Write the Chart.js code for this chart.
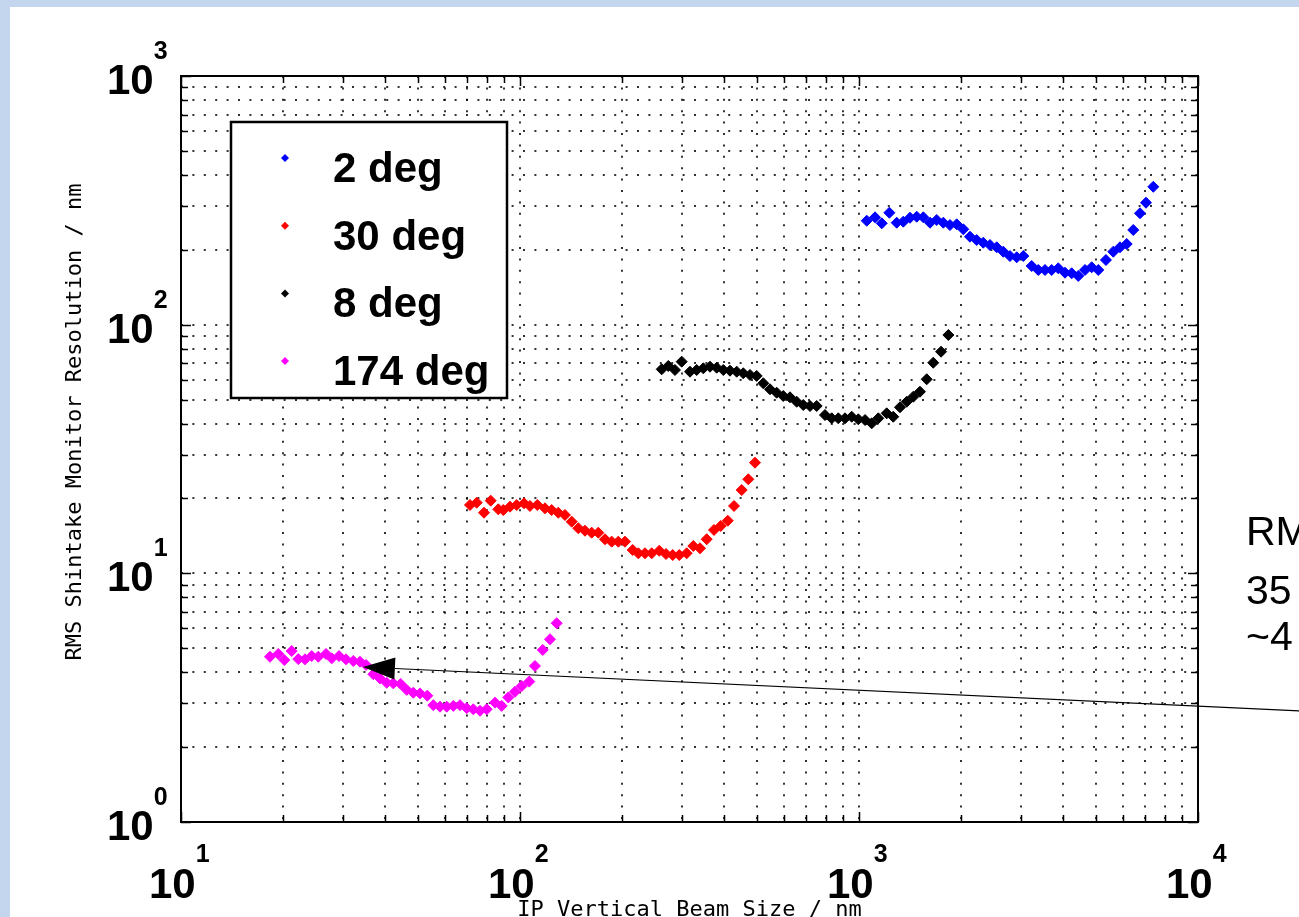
<!DOCTYPE html>
<html>
<head>
<meta charset="utf-8">
<script src="https://cdn.jsdelivr.net/npm/chart.js@4/dist/chart.umd.min.js"></script>
<style>
  html, body { margin: 0; padding: 0; background: #ffffff; }
  #wrap { width: 1299px; height: 917px; position: relative; }
</style>
</head>
<body>
<div id="wrap"><canvas id="c" width="1299" height="917"></canvas></div>
<script>
// Series labels and colours (legend order)
const seriesNames  = ['2 deg', '30 deg', '8 deg', '174 deg'];
const seriesColors = ['#0000ff', '#ff0000', '#000000', '#ff00ff'];

// IP vertical beam size (nm) and RMS monitor resolution (nm) per crossing angle
const size2deg = [1054,1115,1167,1229,1292,1351,1414,1480,1548,1620,1695,1773,1855,1942,2031,2125,2224,2326,2434,2548,2665,2788,2919,3053,3231,3380,3537,3701,3871,4052,4240,4434,4642,4857,5080,5352,5625,5887,6161,6443,6743,7024,7382];
const res2deg  = [261.8,270.2,255.6,282.0,257.1,259.5,269.2,271.7,270.2,257.1,263.6,257.1,251.6,253.2,241.8,225.8,219.0,213.6,209.1,204.7,196.5,188.8,186.6,188.8,172.2,165.9,165.9,165.9,168.5,161.8,160.9,157.0,165.9,170.1,165.9,182.0,196.5,204.7,211.1,240.3,280.5,309.4,358.6];

const size30deg = [71.20,74.52,78.30,81.96,86.30,89.27,93.44,97.79,102.8,107.0,112.5,118.5,124.0,129.7,135.7,142.1,148.6,155.5,162.7,170.2,178.1,186.4,195.0,204.0,215.0,223.4,233.7,244.6,257.6,269.6,282.1,295.0,310.2,324.5,339.6,355.4,373.5,390.8,410.0,427.9,450.8,471.5,493.4];
const res30deg  = [18.83,19.24,17.53,19.60,18.09,17.97,18.54,18.83,19.12,18.66,18.83,18.26,17.97,17.53,17.16,16.13,15.18,14.84,14.57,14.57,13.71,13.41,13.41,13.41,12.41,12.04,12.04,12.04,12.33,11.96,11.85,11.85,12.04,12.88,12.61,13.71,14.94,15.50,16.28,18.66,21.63,23.89,27.86];

const size8deg = [261.8,273.8,286.5,299.9,317.3,332.0,347.3,363.5,380.4,397.9,416.4,435.8,455.7,477.0,499.1,522.0,546.3,571.7,597.9,625.8,654.8,684.9,716.9,750.2,793.7,830.7,868.8,909.3,951.7,995.2,1042,1090,1140,1207,1262,1321,1383,1446,1513,1584,1656,1746,1835];
const res8deg  = [66.15,68.21,65.72,70.99,64.70,65.72,66.76,67.76,67.14,65.72,65.30,64.70,63.75,62.77,62.19,58.11,54.97,53.26,51.66,51.04,48.99,47.53,47.09,47.09,43.31,42.02,42.02,42.02,42.64,41.63,41.36,40.11,42.02,44.00,42.64,46.53,48.99,51.32,53.75,60.31,70.31,77.86,90.87];

const size174deg = [18.30,19.36,20.17,21.21,22.18,23.22,24.30,25.41,26.78,27.83,29.25,30.67,32.23,33.73,35.14,36.93,38.64,40.44,42.29,44.47,46.32,48.45,50.70,53.28,55.49,58.08,60.79,63.57,66.53,69.63,72.81,76.21,79.76,84.39,88.31,92.37,96.67,101.2,106.5,110.7,116.7,122.6,128.3];
const res174deg  = [4.62,4.74,4.48,4.87,4.52,4.51,4.65,4.62,4.74,4.55,4.65,4.51,4.44,4.41,4.28,3.93,3.78,3.63,3.61,3.59,3.40,3.31,3.29,3.22,2.95,2.91,2.91,2.93,2.95,2.87,2.84,2.80,2.84,3.02,2.93,3.17,3.34,3.52,3.67,4.24,4.92,5.43,6.30];

// Decade exponents shown as tick labels
const xTickExponents = [1, 2, 3, 4];
const yTickExponents = [0, 1, 2, 3];

// Axis titles and side annotation
const xTitle = 'IP Vertical Beam Size / nm';
const yTitle = 'RMS Shintake Monitor Resolution / nm';
const sideNote = ['RMS', '35', '~4'];
const arrowTip  = { x: 34.4,  y: 4.2 };
const arrowTail = { x: 19900, y: 2.8 };

// Gridline values: 1..9 x each decade
function decadeGrid(exps) {
  const out = [];
  for (let i = 0; i < exps.length - 1; i++) {
    for (let m = 1; m <= 9; m++) out.push(m * Math.pow(10, exps[i]));
  }
  out.push(Math.pow(10, exps[exps.length - 1]));
  return out;
}
const xGrid = decadeGrid(xTickExponents);
const yGrid = decadeGrid(yTickExponents);

const seriesData = [
  [size2deg, res2deg],
  [size30deg, res30deg],
  [size8deg, res8deg],
  [size174deg, res174deg]
];

const datasets = seriesData.map(([xs, ys], i) => ({
  label: seriesNames[i],
  data: xs.map((x, k) => ({ x: x, y: ys[k] })),
  showLine: false,
  pointStyle: 'rectRot',
  pointRadius: 5.5,
  pointBackgroundColor: seriesColors[i],
  pointBorderColor: seriesColors[i],
  pointBorderWidth: 1
}));

const SANS = '"Liberation Sans", Arial, Helvetica, sans-serif';
const MONO = '"DejaVu Sans Mono", monospace';

function drawDiamond(ctx, x, y, r, color) {
  ctx.beginPath();
  ctx.moveTo(x, y - r); ctx.lineTo(x + r, y); ctx.lineTo(x, y + r); ctx.lineTo(x - r, y);
  ctx.closePath();
  ctx.fillStyle = color; ctx.fill();
}

const decor = {
  id: 'decor',
  beforeDraw(chart) {
    const ctx = chart.ctx;
    ctx.save();
    ctx.fillStyle = '#c3d6ee';
    ctx.fillRect(0, 0, chart.width, chart.height);
    ctx.fillStyle = '#ffffff';
    ctx.fillRect(10, 7, chart.width - 10, chart.height - 7);
    ctx.restore();
  },
  afterDraw(chart) {
    const ctx = chart.ctx;
    const xs = chart.scales.x, ys = chart.scales.y;
    const a = chart.chartArea;
    ctx.save();

    // frame
    ctx.strokeStyle = '#000'; ctx.lineWidth = 2;
    ctx.strokeRect(a.left, a.top, a.right - a.left, a.bottom - a.top);

    // inward tick marks on all four sides
    ctx.lineWidth = 1.5;
    ctx.beginPath();
    xGrid.forEach(v => {
      const p = Math.round(xs.getPixelForValue(v)) + 0.5;
      const len = Math.abs(Math.log10(v) % 1) < 1e-9 ? 10 : 7;
      ctx.moveTo(p, a.bottom); ctx.lineTo(p, a.bottom - len);
      ctx.moveTo(p, a.top); ctx.lineTo(p, a.top + len);
    });
    yGrid.forEach(v => {
      const p = Math.round(ys.getPixelForValue(v)) + 0.5;
      const len = Math.abs(Math.log10(v) % 1) < 1e-9 ? 10 : 7;
      ctx.moveTo(a.left, p); ctx.lineTo(a.left + len, p);
      ctx.moveTo(a.right, p); ctx.lineTo(a.right - len, p);
    });
    ctx.stroke();

    // tick labels: 10 with superscript exponent
    ctx.fillStyle = '#000';
    ctx.textAlign = 'left'; ctx.textBaseline = 'alphabetic';
    xTickExponents.forEach(e => {
      const p = xs.getPixelForValue(Math.pow(10, e));
      ctx.font = 'bold 42px ' + SANS;
      const x0 = p - 32;
      ctx.fillText('10', x0, a.bottom + 76);
      const w = ctx.measureText('10').width;
      ctx.font = 'bold 25px ' + SANS;
      ctx.fillText(String(e), x0 + w, a.bottom + 40);
    });
    yTickExponents.forEach(e => {
      const p = ys.getPixelForValue(Math.pow(10, e));
      ctx.font = 'bold 42px ' + SANS;
      const x0 = a.left - 74;
      ctx.fillText('10', x0, p + 18);
      const w = ctx.measureText('10').width;
      ctx.font = 'bold 25px ' + SANS;
      ctx.fillText(String(e), x0 + w, p - 17);
    });

    // axis titles
    ctx.font = '22px ' + MONO;
    ctx.textAlign = 'center';
    ctx.fillText(xTitle, (a.left + a.right) / 2, 916);
    ctx.save();
    ctx.translate(81, 422);
    ctx.rotate(-Math.PI / 2);
    ctx.fillText(yTitle, 0, 0);
    ctx.restore();

    // legend box
    const lx = 231, ly = 122, lw = 276, lh = 276;
    ctx.fillStyle = '#fff';
    ctx.fillRect(lx, ly, lw, lh);
    ctx.strokeStyle = '#000'; ctx.lineWidth = 2.5;
    ctx.strokeRect(lx, ly, lw, lh);
    ctx.textAlign = 'left';
    ctx.font = 'bold 42px ' + SANS;
    seriesNames.forEach((name, i) => {
      const rowY = 158 + i * 67.7;
      drawDiamond(ctx, 285, rowY, 4, seriesColors[i]);
      ctx.fillStyle = '#000';
      ctx.fillText(name, 333, rowY + 24);
    });

    // arrow pointing at the 174 deg curve
    const tx = xs.getPixelForValue(arrowTip.x), ty = ys.getPixelForValue(arrowTip.y);
    const sx = xs.getPixelForValue(arrowTail.x), sy = ys.getPixelForValue(arrowTail.y);
    const ang = Math.atan2(sy - ty, sx - tx);
    const hl = 32, hw = 11;
    const bx = tx + Math.cos(ang) * hl, by = ty + Math.sin(ang) * hl;
    ctx.strokeStyle = '#000'; ctx.lineWidth = 1.2;
    ctx.beginPath(); ctx.moveTo(sx, sy); ctx.lineTo(bx, by); ctx.stroke();
    ctx.beginPath();
    ctx.moveTo(tx, ty);
    ctx.lineTo(bx - Math.sin(ang) * hw, by + Math.cos(ang) * hw);
    ctx.lineTo(bx + Math.sin(ang) * hw, by - Math.cos(ang) * hw);
    ctx.closePath();
    ctx.fillStyle = '#000'; ctx.fill();

    // side annotation text
    ctx.font = '41px ' + SANS;
    ctx.fillStyle = '#000';
    ctx.fillText(sideNote[0], 1246, 545);
    ctx.fillText(sideNote[1], 1246, 604);
    ctx.fillText(sideNote[2], 1246, 650);

    ctx.restore();
  }
};

const gridOpts = { color: 'rgba(0,0,0,0.8)', lineWidth: 2, drawTicks: false };

new Chart(document.getElementById('c'), {
  type: 'scatter',
  data: { datasets: datasets },
  options: {
    responsive: false,
    animation: false,
    devicePixelRatio: 1,
    layout: { padding: { left: 181, top: 76, right: 101, bottom: 95 } },
    plugins: { legend: { display: false }, tooltip: { enabled: false } },
    scales: {
      x: {
        type: 'logarithmic', min: 10, max: 10000,
        afterBuildTicks: s => { s.ticks = xGrid.map(v => ({ value: v })); },
        afterFit: s => { s.height = 0; },
        ticks: { display: false },
        grid: gridOpts,
        border: { display: false, dash: [2, 9.4] }
      },
      y: {
        type: 'logarithmic', min: 1, max: 1000,
        afterBuildTicks: s => { s.ticks = yGrid.map(v => ({ value: v })); },
        afterFit: s => { s.width = 0; },
        ticks: { display: false },
        grid: gridOpts,
        border: { display: false, dash: [2, 9.4] }
      }
    }
  },
  plugins: [decor]
});
</script>
</body>
</html>
